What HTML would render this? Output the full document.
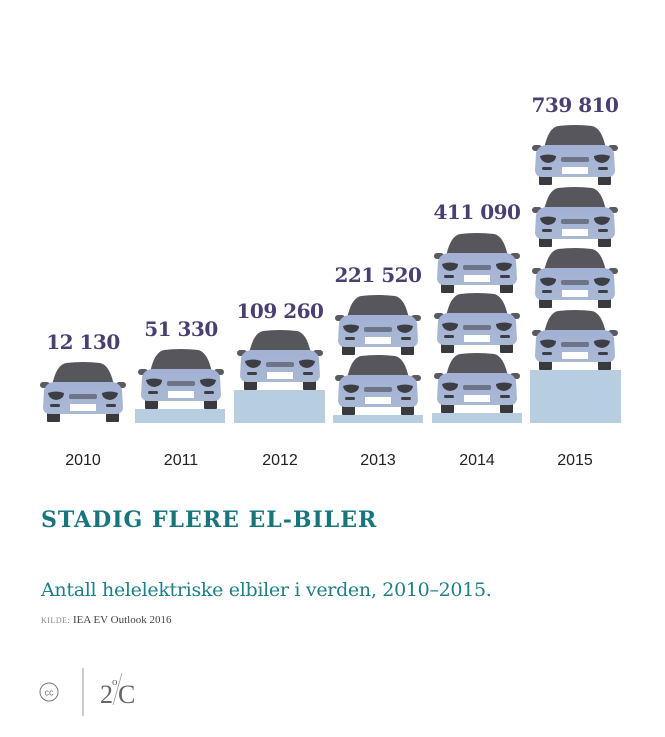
<!DOCTYPE html>
<html><head><meta charset="utf-8"><style>
body{margin:0;background:#fff;width:665px;height:737px;overflow:hidden;position:relative}
.n{position:absolute;font-family:"DejaVu Serif","Liberation Serif",serif;font-weight:bold;color:#4b3f72;font-size:20px;text-align:center;width:120px;letter-spacing:-0.5px}
.y{position:absolute;font-family:"Liberation Sans",sans-serif;font-size:16px;color:#222;text-align:center;width:80px;top:452px}
</style></head><body>
<svg width="665" height="737" style="position:absolute;left:0;top:0">
<defs>
<linearGradient id="g" x1="0" y1="0" x2="0" y2="1"><stop offset="0" stop-color="#a2b1d4"/><stop offset="1" stop-color="#a9b9d4"/></linearGradient>
<symbol id="car" viewBox="0 0 86 60" width="86" height="60">
<rect x="7" y="48" width="13" height="12" rx="1" fill="#3a3a3e"/>
<rect x="66" y="48" width="13" height="12" rx="1" fill="#3a3a3e"/>
<rect x="0" y="20" width="10" height="6" rx="3" fill="#5a5a60"/>
<rect x="76" y="20" width="10" height="6" rx="3" fill="#5a5a60"/>
<path d="M12 24 Q16 3 26 1 Q43 -1 60 1 Q70 3 74 24 Z" fill="#56565c"/>
<path d="M4 28 Q6 21 14 20 L72 20 Q80 21 82 28 L83 46 Q82 52 76 52 L10 52 Q4 52 3 46 Z" fill="url(#g)"/>
<path d="M8 31 Q16 28 24 31 Q24 37 16 38 Q9 37 8 31Z" fill="#3d3d44"/>
<path d="M78 31 Q70 28 62 31 Q62 37 70 38 Q77 37 78 31Z" fill="#3d3d44"/>
<rect x="29" y="32" width="28" height="5" rx="2" fill="#6e7488"/>
<rect x="30" y="42" width="26" height="7" fill="#fff"/>
<rect x="10" y="42" width="10" height="3" rx="1.5" fill="#3d3d44"/>
<rect x="66" y="42" width="10" height="3" rx="1.5" fill="#3d3d44"/>
</symbol>
</defs>
<g fill="#b7cde0">
<rect x="135" y="409" width="90" height="14"/>
<rect x="234" y="390" width="91" height="33"/>
<rect x="333" y="415" width="90" height="8"/>
<rect x="432" y="413" width="90" height="10"/>
<rect x="530" y="370" width="91" height="53"/>
</g>
<use href="#car" x="40" y="362"/>
<use href="#car" x="138" y="349"/>
<use href="#car" x="237" y="330"/>
<use href="#car" x="335" y="295"/><use href="#car" x="335" y="355"/>
<use href="#car" x="434" y="233"/><use href="#car" x="434" y="293"/><use href="#car" x="434" y="353"/>
<use href="#car" x="532" y="125"/><use href="#car" x="532" y="187"/><use href="#car" x="532" y="248"/><use href="#car" x="532" y="310"/>
<circle cx="49" cy="692" r="9" fill="none" stroke="#777" stroke-width="1"/>
<text x="49" y="695.5" font-family="Liberation Sans" font-size="9" fill="#777" text-anchor="middle">cc</text>
<line x1="83" y1="668" x2="83" y2="716" stroke="#999" stroke-width="1"/>
<line x1="113" y1="705" x2="122" y2="673" stroke="#999" stroke-width="0.8"/>
<text x="100" y="703" font-family="Liberation Serif" font-size="26" fill="#666">2</text>
<text x="112" y="685" font-family="Liberation Serif" font-size="11" fill="#666">o</text>
<text x="118" y="703" font-family="Liberation Serif" font-size="26" fill="#666">C</text>
</svg>
<div class="n" style="left:23px;top:330px">12 130</div>
<div class="n" style="left:121px;top:317px">51 330</div>
<div class="n" style="left:220px;top:299px">109 260</div>
<div class="n" style="left:318px;top:263px">221 520</div>
<div class="n" style="left:417px;top:200px">411 090</div>
<div class="n" style="left:515px;top:93px">739 810</div>
<div class="y" style="left:43px">2010</div>
<div class="y" style="left:141px">2011</div>
<div class="y" style="left:240px">2012</div>
<div class="y" style="left:338px">2013</div>
<div class="y" style="left:437px">2014</div>
<div class="y" style="left:535px">2015</div>
<div style="position:absolute;left:41px;top:507px;font-family:'DejaVu Serif',serif;font-weight:bold;font-size:22px;color:#17767d;letter-spacing:1px">STADIG FLERE EL-BILER</div>
<div style="position:absolute;left:41px;top:579px;font-family:'DejaVu Serif',serif;font-size:19px;color:#1f7f86;letter-spacing:-0.3px">Antall helelektriske elbiler i verden, 2010–2015.</div>
<div style="position:absolute;left:41px;top:614px;font-family:'Liberation Serif',serif;font-size:11px;color:#444"><span style="font-size:8px;color:#888;letter-spacing:0.5px">KILDE:</span> IEA EV Outlook 2016</div>
</body></html>
